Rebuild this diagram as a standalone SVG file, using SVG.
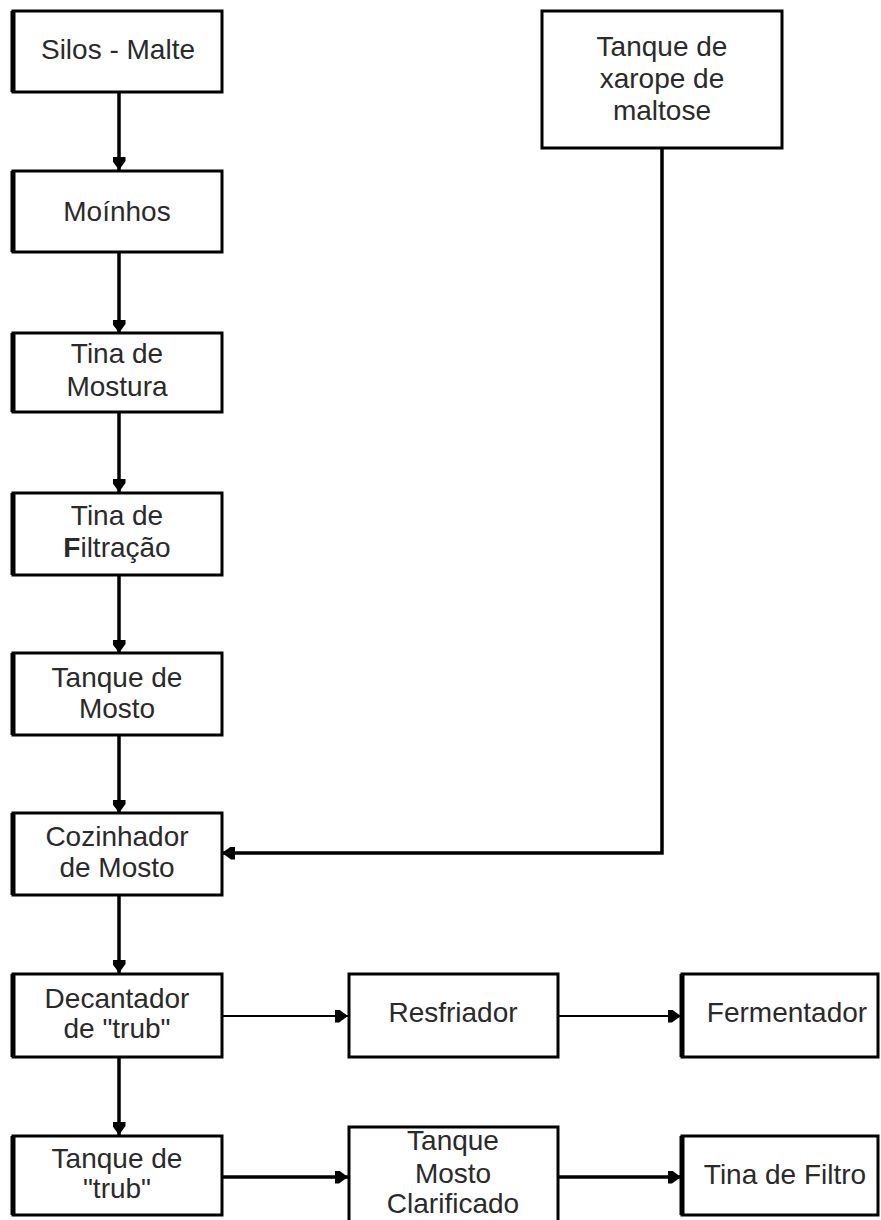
<svg xmlns="http://www.w3.org/2000/svg" width="881" height="1220" viewBox="0 0 881 1220">
<defs>
<style>
.box{fill:#fff;stroke:#000;stroke-width:3}
.le{stroke:#000;stroke-width:5}
.t{font-family:"Liberation Sans",Arial,sans-serif;font-size:28px;fill:#2a2a2a;text-anchor:middle}
.c{fill:none;stroke:#000;stroke-width:3.5}
.c2{fill:none;stroke:#000;stroke-width:2}
</style>
<marker id="ah" viewBox="0 0 13 13" refX="13" refY="6.5" markerWidth="13" markerHeight="13" markerUnits="userSpaceOnUse" orient="auto">
<path d="M0,0 L4,0 L13,6.5 L4,13 L0,13 z" fill="#000"/>
</marker>
</defs>
<rect width="881" height="1220" fill="#fff"/>
<g id="connectors">
<line class="c" x1="119" y1="92" x2="119" y2="170" marker-end="url(#ah)"/>
<line class="c" x1="119" y1="252" x2="119" y2="333" marker-end="url(#ah)"/>
<line class="c" x1="119" y1="412" x2="119" y2="492" marker-end="url(#ah)"/>
<line class="c" x1="119" y1="575" x2="119" y2="653" marker-end="url(#ah)"/>
<line class="c" x1="119" y1="735" x2="119" y2="813" marker-end="url(#ah)"/>
<line class="c" x1="119" y1="895" x2="119" y2="973" marker-end="url(#ah)"/>
<line class="c" x1="119" y1="1057" x2="119" y2="1135" marker-end="url(#ah)"/>
<polyline class="c" points="662,148 662,853 222,853" marker-end="url(#ah)"/>
<line class="c2" x1="222" y1="1016" x2="348" y2="1016" marker-end="url(#ah)"/>
<line class="c2" x1="558" y1="1016" x2="681" y2="1016" marker-end="url(#ah)"/>
<line class="c" x1="222" y1="1177" x2="348" y2="1177" marker-end="url(#ah)"/>
<line class="c" x1="558" y1="1177" x2="681" y2="1177" marker-end="url(#ah)"/>
</g>
<g id="silos"><rect class="box" x="13" y="11" width="209" height="81"/><line class="le" x1="13" y1="11" x2="13" y2="92"/><text class="t" x="118" y="59">Silos - Malte</text></g>
<g id="moinhos"><rect class="box" x="13" y="171" width="209" height="81"/><line class="le" x1="13" y1="171" x2="13" y2="252"/><text class="t" x="117" y="221">Moínhos</text></g>
<g id="mostura"><rect class="box" x="13" y="333" width="209" height="79"/><line class="le" x1="13" y1="333" x2="13" y2="412"/><text class="t" x="117" y="363">Tina de</text><text class="t" x="117" y="396">Mostura</text></g>
<g id="filtracao"><rect class="box" x="13" y="493" width="209" height="82"/><line class="le" x1="13" y1="493" x2="13" y2="575"/><text class="t" x="117" y="525">Tina de</text><text class="t" x="117" y="557"><tspan font-weight="bold">F</tspan>iltração</text></g>
<g id="tanque-mosto"><rect class="box" x="13" y="653" width="209" height="82"/><line class="le" x1="13" y1="653" x2="13" y2="735"/><text class="t" x="117" y="687">Tanque de</text><text class="t" x="117" y="718">Mosto</text></g>
<g id="cozinhador"><rect class="box" x="13" y="813" width="209" height="82"/><line class="le" x1="13" y1="813" x2="13" y2="895"/><text class="t" x="117" y="846">Cozinhador</text><text class="t" x="117" y="877">de Mosto</text></g>
<g id="decantador"><rect class="box" x="13" y="974" width="209" height="83"/><line class="le" x1="13" y1="974" x2="13" y2="1057"/><text class="t" x="117" y="1008">Decantador</text><text class="t" x="117" y="1038">de "trub"</text></g>
<g id="tanque-trub"><rect class="box" x="13" y="1136" width="209" height="79"/><line class="le" x1="13" y1="1136" x2="13" y2="1215"/><text class="t" x="117" y="1168">Tanque de</text><text class="t" x="117" y="1198">"trub"</text></g>
<g id="xarope"><rect class="box" x="542" y="11" width="240" height="137"/><text class="t" x="662" y="56">Tanque de</text><text class="t" x="662" y="88">xarope de</text><text class="t" x="662" y="120">maltose</text></g>
<g id="resfriador"><rect class="box" x="349" y="974" width="209" height="83"/><text class="t" x="453" y="1022">Resfriador</text></g>
<g id="fermentador"><rect class="box" x="682" y="974" width="196" height="83"/><line class="le" x1="682" y1="974" x2="682" y2="1057"/><text class="t" x="787" y="1022">Fermentador</text></g>
<g id="clarificado"><rect class="box" x="349" y="1127" width="209" height="100"/><text class="t" x="453" y="1150">Tanque</text><text class="t" x="453" y="1183">Mosto</text><text class="t" x="453" y="1213">Clarificado</text></g>
<g id="tina-filtro"><rect class="box" x="682" y="1136" width="196" height="79"/><line class="le" x1="682" y1="1136" x2="682" y2="1215"/><text class="t" x="785" y="1184">Tina de Filtro</text></g>
</svg>
